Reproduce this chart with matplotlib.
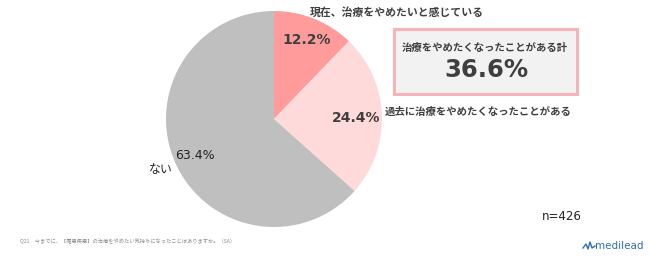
import matplotlib
matplotlib.use("Agg")
import matplotlib.pyplot as plt
from matplotlib.patches import Rectangle

plt.rcParams['font.family'] = ['Noto Sans CJK JP', 'DejaVu Sans']

# Survey answers (share of respondents, %)
categories = ["現在、治療をやめたいと感じている", "過去に治療をやめたくなったことがある", "ない"]
values = [12.2, 24.4, 63.4]
colors = ["#FF9B9B", "#FFDADA", "#BFBFBF"]
total_label = "治療をやめたくなったことがある計"
total_value = values[0] + values[1]
n_label = "n=426"
question = "Q21\u3000今までに、【罹患疾患】の治療をやめたい気持ちになったことはありますか。（SA）"

W, H = 650, 256
fig = plt.figure(figsize=(W / 100, H / 100), dpi=100)
fig.patch.set_facecolor("white")


def fx(px):
    return px / W


def fy(py):
    return 1 - py / H


# Pie axes: centre (274, 119) px, radius 108 px
cx, cy, r = 274, 119, 108
ax = fig.add_axes([fx(cx - r), fy(cy + r), 2 * r / W, 2 * r / H])
wedges, _ = ax.pie(values, colors=colors, startangle=90, counterclock=False,
                   wedgeprops=dict(linewidth=0))
ax.set_aspect("equal")
ax.set_xlim(-1, 1)
ax.set_ylim(-1, 1)
ax.axis("off")

dark = "#3F3F3F"
# Percent labels inside slices
ax.text(0.30, 0.73, f"{values[0]:.1f}%", fontsize=10, fontweight="bold",
        color=dark, ha="center", va="center", family="DejaVu Sans")
ax.text(0.76, 0.01, f"{values[1]:.1f}%", fontsize=10, fontweight="bold",
        color=dark, ha="center", va="center", family="DejaVu Sans")
ax.text(-0.73, -0.34, f"{values[2]:.1f}%", fontsize=9,
        color="#222222", ha="center", va="center", family="DejaVu Sans")

# Category labels
fig.text(fx(310), fy(13), categories[0], fontsize=7.8, fontweight="bold",
         color=dark, ha="left", va="center")
fig.text(fx(385), fy(112), categories[1], fontsize=7.5, fontweight="bold",
         color=dark, ha="left", va="center")
fig.text(fx(149), fy(169), categories[2], fontsize=8.6,
         color="#222222", ha="left", va="center")

# Summary box
box = Rectangle((fx(393.5), fy(93.5)), fx(576.5) - fx(393.5), fy(28.5) - fy(93.5),
                transform=fig.transFigure, facecolor="#F2F2F2",
                edgecolor="#F4B4B8", linewidth=2.2)
fig.add_artist(box)
fig.text(fx(485), fy(48), total_label, fontsize=7.5, fontweight="bold",
         color=dark, ha="center", va="center")
fig.text(fx(486), fy(70), f"{total_value:.1f}%", fontsize=17.5, fontweight="bold",
         color=dark, ha="center", va="center", family="DejaVu Sans")

# Sample size
fig.text(fx(542), fy(217), n_label, fontsize=8.5, color="#222222",
         ha="left", va="center", family="DejaVu Sans")

# Question footnote
fig.text(fx(20), fy(241), question, fontsize=3.75, color="#8C8C8C",
         ha="left", va="center")

# Brand mark
fig.text(fx(595), fy(246), "medilead", fontsize=7.5, color="#2F6FB5",
         ha="left", va="center", family="DejaVu Sans")
logo_x = [583, 586, 588, 590, 592, 595]
logo_y = [248, 244, 249, 242, 248, 246]
fig.add_artist(plt.Line2D([fx(v) for v in logo_x], [fy(v) for v in logo_y],
                          transform=fig.transFigure, color="#2F6FB5", linewidth=1))

fig.savefig("out.png", dpi=100, facecolor="white")
